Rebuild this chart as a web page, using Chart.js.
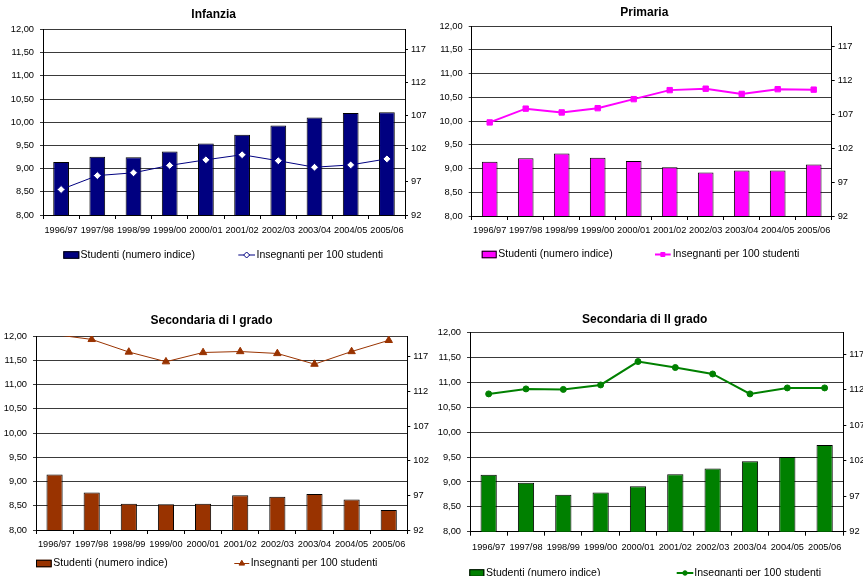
<!DOCTYPE html>
<html><head><meta charset="utf-8">
<script src="https://cdn.jsdelivr.net/npm/chart.js@4/dist/chart.umd.min.js"></script>
<style>
html,body{margin:0;padding:0;background:#fff;overflow:hidden;width:863px;height:576px;position:relative;}
canvas{position:absolute;display:block;}
</style></head><body>
<canvas id="c1" width="431" height="290" style="left:0;top:0"></canvas>
<canvas id="c2" width="432" height="290" style="left:431px;top:0"></canvas>
<canvas id="c3" width="431" height="286" style="left:0;top:290px"></canvas>
<canvas id="c4" width="432" height="286" style="left:431px;top:290px"></canvas>
<script>
// ---- DATA ----
const categories = ['1996/97','1997/98','1998/99','1999/00','2000/01','2001/02','2002/03','2003/04','2004/05','2005/06'];
const titles = ['Infanzia','Primaria','Secondaria di I grado','Secondaria di II grado'];
const seriesNames = ['Studenti (numero indice)','Insegnanti per 100 studenti'];
const infanziaStudenti   = [100.0,100.8,100.7,101.6,102.8,104.1,105.5,106.7,107.4,107.5];
const infanziaInsegnanti = [8.55,8.85,8.91,9.07,9.19,9.30,9.17,9.03,9.08,9.21];
const primariaStudenti   = [100.0,100.5,101.2,100.6,100.1,99.2,98.4,98.7,98.7,99.6];
const primariaInsegnanti = [9.97,10.26,10.18,10.27,10.46,10.65,10.68,10.57,10.67,10.66];
const sec1Studenti       = [100.0,97.4,95.8,95.7,95.8,97.0,96.8,97.2,96.4,94.9];
const sec1Insegnanti     = [12.03,11.93,11.67,11.47,11.66,11.68,11.64,11.42,11.68,11.91];
const sec2Studenti       = [100.0,98.9,97.2,97.5,98.4,100.1,100.9,101.9,102.5,104.2];
const sec2Insegnanti     = [10.77,10.87,10.86,10.95,11.42,11.30,11.17,10.77,10.89,10.89];
const leftMin = 8, leftMax = 12, leftStep = 0.5;
const rightMin = 92, rightMax = 120;
const rightTicks = [92,97,102,107,112,117];

// ---- STYLE / LAYOUT ----
const FONT = "'Liberation Sans', Arial, sans-serif";
const panels = [
  { id:'c1', title:titles[0], bars:infanziaStudenti, line:infanziaInsegnanti,
    barColor:'#000080', lineColor:'#000080', lineWidth:1, pointStyle:'rectRot', pointRadius:4, pointFill:'#ffffff',
    plot:{l:43,r:405,t:29.5,b:215}, xPad:6,
    titlePos:{x:213.7,y:14.5},
    leg:{y:255,b0:63.3,b1:79.3,t1:80.5,s0:238.3,s1:255,t2:256.5} },
  { id:'c2', title:titles[1], bars:primariaStudenti, line:primariaInsegnanti,
    barColor:'#ff00ff', lineColor:'#ff00ff', lineWidth:2, pointStyle:'rect', pointRadius:3.8, pointFill:'#ff00ff',
    plot:{l:40.7,r:400.7,t:26,b:216}, xPad:5,
    titlePos:{x:213.3,y:12.7},
    leg:{y:254.5,b0:50.7,b1:65.7,t1:67.3,s0:224,s1:239.7,t2:241.7} },
  { id:'c3', title:titles[2], bars:sec1Studenti, line:sec1Insegnanti,
    barColor:'#993300', lineColor:'#993300', lineWidth:1, pointStyle:'triangle', pointRadius:4.3, pointFill:'#993300',
    plot:{l:36,r:407.3,t:46,b:240}, xPad:5,
    titlePos:{x:211.5,y:30.7},
    leg:{y:273.5,b0:36,b1:51.7,t1:53.3,s0:234.3,s1:249.3,t2:250.7} },
  { id:'c4', title:titles[3], bars:sec2Studenti, line:sec2Insegnanti,
    barColor:'#008000', lineColor:'#008000', lineWidth:2, pointStyle:'circle', pointRadius:3, pointFill:'#008000',
    plot:{l:39,r:412.3,t:42.7,b:241.7}, xPad:6,
    titlePos:{x:213.7,y:30},
    leg:{y:283,b0:38.3,b1:53.3,t1:55,s0:245.7,s1:262.3,t2:263.3} }
];

const decor = {
  id:'decor',
  afterDraw(chart, args, o){
    const p = o.panel, ctx = chart.ctx;
    ctx.save();
    ctx.fillStyle = '#000';
    ctx.font = 'bold 12px ' + FONT;
    ctx.textAlign = 'center'; ctx.textBaseline = 'middle';
    ctx.fillText(p.title, p.titlePos.x, p.titlePos.y);
    const L = p.leg;
    // bar legend
    ctx.fillStyle = p.barColor;
    ctx.fillRect(L.b0, L.y - 3.75, L.b1 - L.b0, 7.5);
    ctx.strokeStyle = '#000'; ctx.lineWidth = 1;
    ctx.strokeRect(L.b0 + 0.5, L.y - 3.25, L.b1 - L.b0 - 1, 6.5);
    // line legend
    ctx.strokeStyle = p.lineColor; ctx.lineWidth = p.lineWidth;
    ctx.beginPath(); ctx.moveTo(L.s0, L.y); ctx.lineTo(L.s1, L.y); ctx.stroke();
    ctx.fillStyle = p.pointFill; ctx.strokeStyle = p.lineColor; ctx.lineWidth = 1;
    Chart.helpers.drawPoint(ctx, {pointStyle:p.pointStyle, radius:p.pointRadius*0.75, borderWidth:1, rotation:0}, (L.s0+L.s1)/2, L.y);
    ctx.fillStyle = '#000';
    ctx.font = '10.5px ' + FONT;
    ctx.textAlign = 'left'; ctx.textBaseline = 'middle';
    ctx.fillText(seriesNames[0], L.t1, L.y);
    ctx.fillText(seriesNames[1], L.t2, L.y);
    ctx.restore();
  }
};

function makeChart(p){
  const cv = document.getElementById(p.id);
  const W = cv.width, H = cv.height;
  new Chart(cv, {
    data:{
      labels: categories,
      datasets:[
        { type:'line', label:seriesNames[1], data:p.line, yAxisID:'y', order:0,
          borderColor:p.lineColor, borderWidth:p.lineWidth, backgroundColor:p.pointFill,
          pointStyle:p.pointStyle,
          pointRadius: c => (c.raw > leftMax ? 0 : p.pointRadius),
          pointBorderColor:p.lineColor, pointBorderWidth:1, pointBackgroundColor:p.pointFill,
          tension:0, fill:false },
        { type:'bar', label:seriesNames[0], data:p.bars, yAxisID:'y1', order:1,
          backgroundColor:p.barColor, borderColor:'#000', borderWidth:1,
          barPercentage:0.435, categoryPercentage:1 }
      ]
    },
    options:{
      responsive:false, animation:false, devicePixelRatio:1,
      layout:{padding:{top:p.plot.t, left:0, right:0, bottom:0}},
      plugins:{ legend:{display:false}, title:{display:false}, tooltip:{enabled:false}, decor:{panel:p} },
      scales:{
        x:{ type:'category', offset:true,
          grid:{offset:true, drawOnChartArea:false, tickLength:4, color:'#000', lineWidth:1},
          border:{color:'#000', width:1},
          ticks:{autoSkip:false, maxRotation:0, minRotation:0, color:'#000', padding:p.xPad, font:{family:FONT, size:9.2}},
          afterFit: s => { s.height = H - p.plot.b; } },
        y:{ type:'linear', position:'left', min:leftMin, max:leftMax,
          ticks:{stepSize:leftStep, color:'#000', padding:6, font:{family:FONT, size:9.3},
            callback: v => Number(v).toFixed(2).replace('.', ',')},
          grid:{color:'#3a3a3a', lineWidth:1, tickLength:3},
          border:{color:'#000', width:1},
          afterFit: s => { s.width = p.plot.l; } },
        y1:{ type:'linear', position:'right', min:rightMin, max:rightMax,
          afterBuildTicks: s => { s.ticks = rightTicks.map(v => ({value:v})); },
          ticks:{color:'#000', padding:3, font:{family:FONT, size:9.3}},
          grid:{drawOnChartArea:false, tickLength:3, color:'#000'},
          border:{color:'#000', width:1},
          afterFit: s => { s.width = W - p.plot.r; } }
      }
    },
    plugins:[decor]
  });
}
panels.forEach(makeChart);
</script>
</body></html>
